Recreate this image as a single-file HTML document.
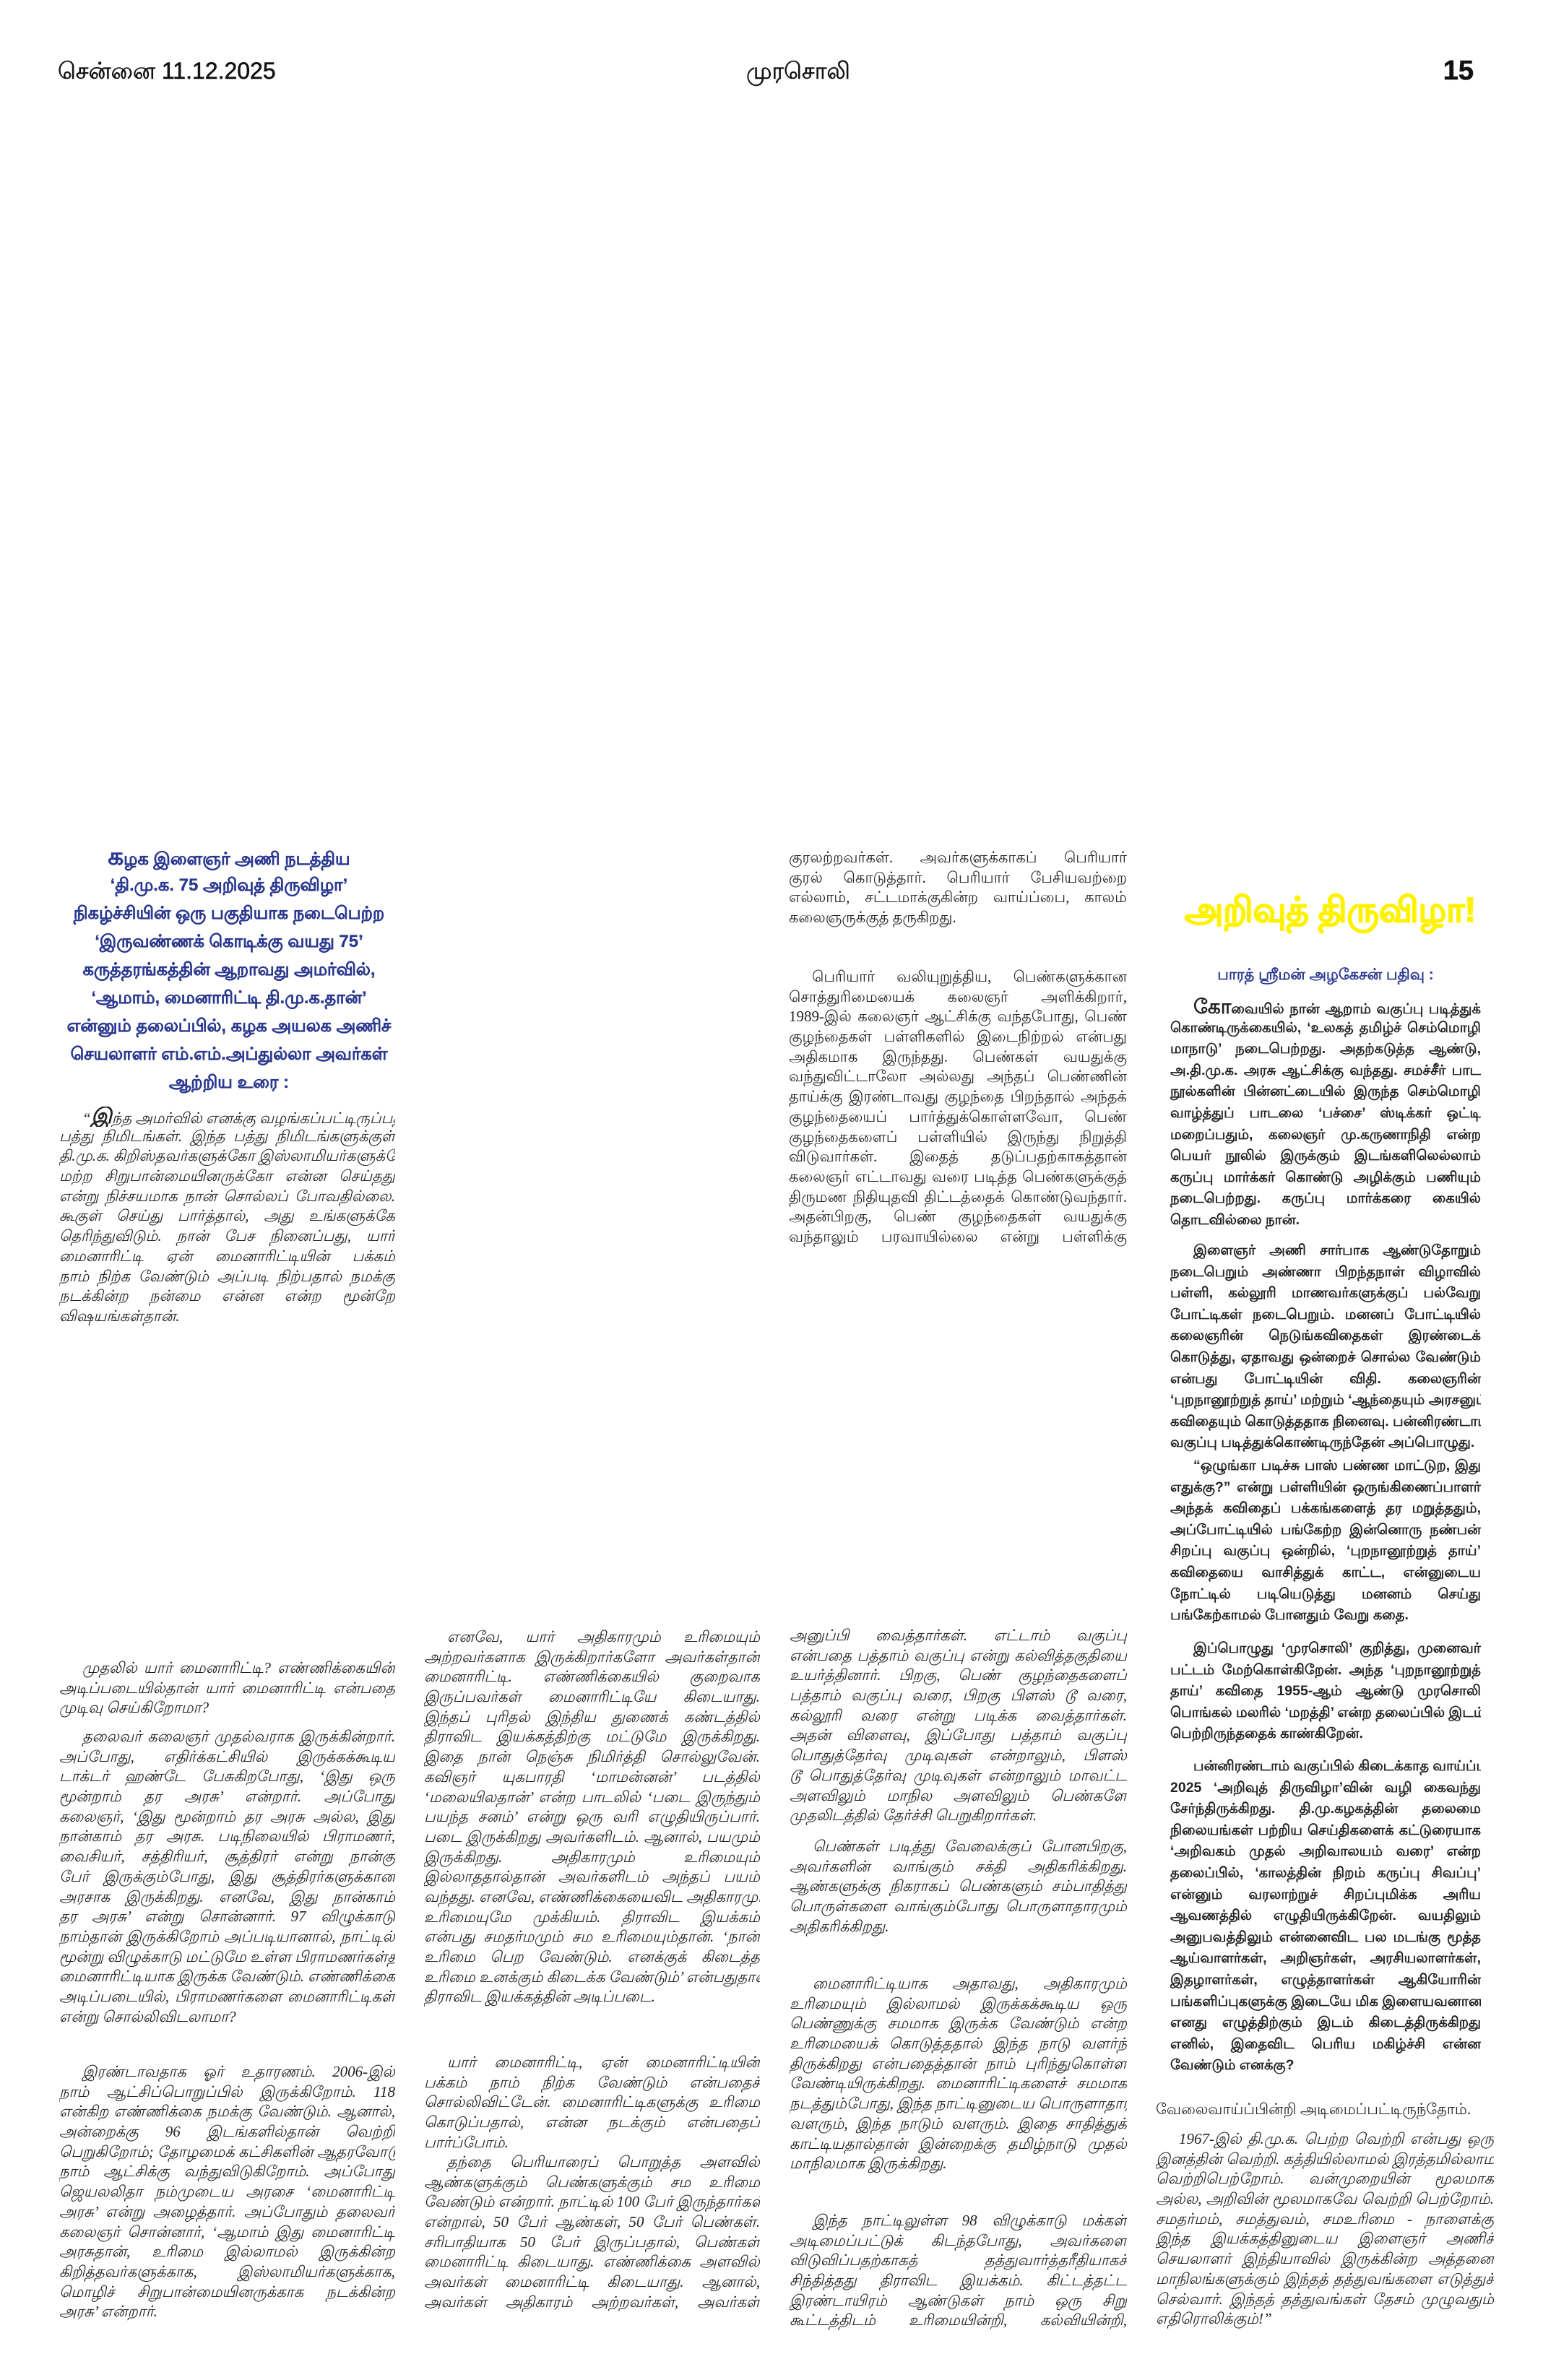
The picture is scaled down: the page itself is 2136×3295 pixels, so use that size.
<!DOCTYPE html>
<html><head><meta charset="utf-8">
<style>
html,body{margin:0;padding:0;background:#fff;}
body{width:2136px;height:3295px;position:relative;overflow:hidden;color:#1a1a1a;}
.h{position:absolute;top:76px;height:44px;line-height:44px;font-family:"Liberation Sans",sans-serif;font-size:32px;color:#111;white-space:nowrap;-webkit-text-stroke:0.6px #111;}
.c{position:absolute;font-family:"Liberation Serif",serif;font-size:21px;font-style:italic;color:#222;}
.c div{height:27.7px;line-height:27.7px;white-space:nowrap;overflow:hidden;text-align:justify;text-align-last:justify;}
.c div.e{text-align-last:left;}
.c div.i{text-indent:32px;}
.s{position:absolute;font-family:"Liberation Sans",sans-serif;font-size:19.5px;font-weight:bold;color:#222;}
.s div{height:29.6px;line-height:29.6px;white-space:nowrap;overflow:hidden;text-align:justify;text-align-last:justify;}
.s div.e{text-align-last:left;}
.s div.i{text-indent:32px;}
.hd{position:absolute;left:82px;width:470px;top:1167px;font-family:"Liberation Sans",sans-serif;font-size:24px;font-weight:bold;color:#2b3990;text-align:center;-webkit-text-stroke:0.3px #2b3990;}
.hd div{height:39px;line-height:39px;white-space:nowrap;}
</style></head><body>

<div class="h" style="left:80px;">சென்னை 11.12.2025</div>
<div class="h" style="left:1000px;width:210px;text-align:center;">முரசொலி</div>
<div class="h" style="left:1960px;width:80px;text-align:right;font-weight:bold;font-size:38px;">15</div>

<div class="hd">
<div><span style="font-size:34px">க</span>ழக இளைஞர் அணி நடத்திய</div>
<div>‘தி.மு.க. 75 அறிவுத் திருவிழா’</div>
<div>நிகழ்ச்சியின் ஒரு பகுதியாக நடைபெற்ற</div>
<div>‘இருவண்ணக் கொடிக்கு வயது 75’</div>
<div>கருத்தரங்கத்தின் ஆறாவது அமர்வில்,</div>
<div>‘ஆமாம், மைனாரிட்டி தி.மு.க.தான்’</div>
<div>என்னும் தலைப்பில், கழக அயலக அணிச்</div>
<div>செயலாளர் எம்.எம்.அப்துல்லா அவர்கள்</div>
<div>ஆற்றிய உரை :</div>
</div>

<div class="c" style="left:82px;width:465px;top:1532px;">
<div class="i">“<span style="font-size:30px;font-weight:bold">இ</span>ந்த அமர்வில் எனக்கு வழங்கப்பட்டிருப்பது</div>
<div>பத்து நிமிடங்கள். இந்த பத்து நிமிடங்களுக்குள்</div>
<div>தி.மு.க. கிறிஸ்தவர்களுக்கோ இஸ்லாமியர்களுக்கோ</div>
<div>மற்ற சிறுபான்மையினருக்கோ என்ன செய்தது</div>
<div>என்று நிச்சயமாக நான் சொல்லப் போவதில்லை.</div>
<div>கூகுள் செய்து பார்த்தால், அது உங்களுக்கே</div>
<div>தெரிந்துவிடும். நான் பேச நினைப்பது, யார்</div>
<div>மைனாரிட்டி ஏன் மைனாரிட்டியின் பக்கம்</div>
<div>நாம் நிற்க வேண்டும் அப்படி நிற்பதால் நமக்கு</div>
<div>நடக்கின்ற நன்மை என்ன என்ற மூன்றே</div>
<div class="e">விஷயங்கள்தான்.</div>
</div>

<div class="c" style="left:1092px;width:468px;top:1174px;font-style:normal;">
<div>குரலற்றவர்கள். அவர்களுக்காகப் பெரியார்</div>
<div>குரல் கொடுத்தார். பெரியார் பேசியவற்றை</div>
<div>எல்லாம், சட்டமாக்குகின்ற வாய்ப்பை, காலம்</div>
<div class="e">கலைஞருக்குத் தருகிறது.</div>
</div>
<div class="c" style="left:1092px;width:468px;top:1339px;font-style:normal;">
<div class="i">பெரியார் வலியுறுத்திய, பெண்களுக்கான</div>
<div>சொத்துரிமையைக் கலைஞர் அளிக்கிறார்,</div>
<div>1989-இல் கலைஞர் ஆட்சிக்கு வந்தபோது, பெண்</div>
<div>குழந்தைகள் பள்ளிகளில் இடைநிற்றல் என்பது</div>
<div>அதிகமாக இருந்தது. பெண்கள் வயதுக்கு</div>
<div>வந்துவிட்டாலோ அல்லது அந்தப் பெண்ணின்</div>
<div>தாய்க்கு இரண்டாவது குழந்தை பிறந்தால் அந்தக்</div>
<div>குழந்தையைப் பார்த்துக்கொள்ளவோ, பெண்</div>
<div>குழந்தைகளைப் பள்ளியில் இருந்து நிறுத்தி</div>
<div>விடுவார்கள். இதைத் தடுப்பதற்காகத்தான்</div>
<div>கலைஞர் எட்டாவது வரை படித்த பெண்களுக்குத்</div>
<div>திருமண நிதியுதவி திட்டத்தைக் கொண்டுவந்தார்.</div>
<div>அதன்பிறகு, பெண் குழந்தைகள் வயதுக்கு</div>
<div>வந்தாலும் பரவாயில்லை என்று பள்ளிக்கு</div>
</div>

<div style="position:absolute;left:1640px;width:400px;top:1228px;height:66px;line-height:66px;text-align:center;font-family:'Liberation Sans',sans-serif;font-size:48px;font-weight:bold;color:#fff200;-webkit-text-stroke:1.5px #fff200;white-space:nowrap;">அறிவுத் திருவிழா!</div>
<div style="position:absolute;left:1660px;width:350px;top:1334px;height:32px;line-height:32px;text-align:center;font-family:'Liberation Sans',sans-serif;font-size:21px;font-weight:bold;color:#2b3990;white-space:nowrap;">பாரத் ஸ்ரீமன் அழகேசன் பதிவு :</div>

<div class="s" style="left:1620px;width:430px;top:1379px;">
<div class="i"><span style="font-size:28px">கோ</span>வையில் நான் ஆறாம் வகுப்பு படித்துக்</div>
<div>கொண்டிருக்கையில், ‘உலகத் தமிழ்ச் செம்மொழி</div>
<div>மாநாடு’ நடைபெற்றது. அதற்கடுத்த ஆண்டு,</div>
<div>அ.தி.மு.க. அரசு ஆட்சிக்கு வந்தது. சமச்சீர் பாட</div>
<div>நூல்களின் பின்னட்டையில் இருந்த செம்மொழி</div>
<div>வாழ்த்துப் பாடலை ‘பச்சை’ ஸ்டிக்கர் ஒட்டி</div>
<div>மறைப்பதும், கலைஞர் மு.கருணாநிதி என்ற</div>
<div>பெயர் நூலில் இருக்கும் இடங்களிலெல்லாம்</div>
<div>கருப்பு மார்க்கர் கொண்டு அழிக்கும் பணியும்</div>
<div>நடைபெற்றது. கருப்பு மார்க்கரை கையில்</div>
<div class="e">தொடவில்லை நான்.</div>
</div>
<div class="s" style="left:1620px;width:430px;top:1717px;">
<div class="i">இளைஞர் அணி சார்பாக ஆண்டுதோறும்</div>
<div>நடைபெறும் அண்ணா பிறந்தநாள் விழாவில்</div>
<div>பள்ளி, கல்லூரி மாணவர்களுக்குப் பல்வேறு</div>
<div>போட்டிகள் நடைபெறும். மனனப் போட்டியில்</div>
<div>கலைஞரின் நெடுங்கவிதைகள் இரண்டைக்</div>
<div>கொடுத்து, ஏதாவது ஒன்றைச் சொல்ல வேண்டும்</div>
<div>என்பது போட்டியின் விதி. கலைஞரின்</div>
<div>‘புறநானூற்றுத் தாய்’ மற்றும் ‘ஆந்தையும் அரசனும்’</div>
<div>கவிதையும் கொடுத்ததாக நினைவு. பன்னிரண்டாம்</div>
<div class="e">வகுப்பு படித்துக்கொண்டிருந்தேன் அப்பொழுது.</div>
</div>
<div class="s" style="left:1620px;width:430px;top:2015px;">
<div class="i">“ஒழுங்கா படிச்சு பாஸ் பண்ண மாட்டுற, இது</div>
<div>எதுக்கு?” என்று பள்ளியின் ஒருங்கிணைப்பாளர்</div>
<div>அந்தக் கவிதைப் பக்கங்களைத் தர மறுத்ததும்,</div>
<div>அப்போட்டியில் பங்கேற்ற இன்னொரு நண்பன்</div>
<div>சிறப்பு வகுப்பு ஒன்றில், ‘புறநானூற்றுத் தாய்’</div>
<div>கவிதையை வாசித்துக் காட்ட, என்னுடைய</div>
<div>நோட்டில் படியெடுத்து மனனம் செய்து</div>
<div class="e">பங்கேற்காமல் போனதும் வேறு கதை.</div>
</div>
<div class="s" style="left:1620px;width:430px;top:2268px;">
<div class="i">இப்பொழுது ‘முரசொலி’ குறித்து, முனைவர்</div>
<div>பட்டம் மேற்கொள்கிறேன். அந்த ‘புறநானூற்றுத்</div>
<div>தாய்’ கவிதை 1955-ஆம் ஆண்டு முரசொலி</div>
<div>பொங்கல் மலரில் ‘மறத்தி’ என்ற தலைப்பில் இடம்</div>
<div class="e">பெற்றிருந்ததைக் காண்கிறேன்.</div>
</div>
<div class="s" style="left:1620px;width:430px;top:2431px;">
<div class="i">பன்னிரண்டாம் வகுப்பில் கிடைக்காத வாய்ப்பு</div>
<div>2025 ‘அறிவுத் திருவிழா’வின் வழி கைவந்து</div>
<div>சேர்ந்திருக்கிறது. தி.மு.கழகத்தின் தலைமை</div>
<div>நிலையங்கள் பற்றிய செய்திகளைக் கட்டுரையாக</div>
<div>‘அறிவகம் முதல் அறிவாலயம் வரை’ என்ற</div>
<div>தலைப்பில், ‘காலத்தின் நிறம் கருப்பு சிவப்பு’</div>
<div>என்னும் வரலாற்றுச் சிறப்புமிக்க அரிய</div>
<div>ஆவணத்தில் எழுதியிருக்கிறேன். வயதிலும்</div>
<div>அனுபவத்திலும் என்னைவிட பல மடங்கு மூத்த</div>
<div>ஆய்வாளர்கள், அறிஞர்கள், அரசியலாளர்கள்,</div>
<div>இதழாளர்கள், எழுத்தாளர்கள் ஆகியோரின்</div>
<div>பங்களிப்புகளுக்கு இடையே மிக இளையவனான</div>
<div>எனது எழுத்திற்கும் இடம் கிடைத்திருக்கிறது</div>
<div>எனில், இதைவிட பெரிய மகிழ்ச்சி என்ன</div>
<div class="e">வேண்டும் எனக்கு?</div>
</div>

<div class="c" style="left:1600px;width:468px;top:2907px;font-style:normal;">
<div class="e">வேலைவாய்ப்பின்றி அடிமைப்பட்டிருந்தோம்.</div>
</div>
<div class="c" style="left:1600px;width:468px;top:2948px;">
<div class="i">1967-இல் தி.மு.க. பெற்ற வெற்றி என்பது ஒரு</div>
<div>இனத்தின் வெற்றி. கத்தியில்லாமல் இரத்தமில்லாமல்</div>
<div>வெற்றிபெற்றோம். வன்முறையின் மூலமாக</div>
<div>அல்ல, அறிவின் மூலமாகவே வெற்றி பெற்றோம்.</div>
<div>சமதர்மம், சமத்துவம், சமஉரிமை - நாளைக்கு</div>
<div>இந்த இயக்கத்தினுடைய இளைஞர் அணிச்</div>
<div>செயலாளர் இந்தியாவில் இருக்கின்ற அத்தனை</div>
<div>மாநிலங்களுக்கும் இந்தத் தத்துவங்களை எடுத்துச்</div>
<div>செல்வார். இந்தத் தத்துவங்கள் தேசம் முழுவதும்</div>
<div class="e">எதிரொலிக்கும்!”</div>
</div>

<div class="c" style="left:82px;width:465px;top:2296px;">
<div class="i">முதலில் யார் மைனாரிட்டி? எண்ணிக்கையின்</div>
<div>அடிப்படையில்தான் யார் மைனாரிட்டி என்பதை</div>
<div class="e">முடிவு செய்கிறோமா?</div>
</div>
<div class="c" style="left:82px;width:465px;top:2391px;">
<div class="i">தலைவர் கலைஞர் முதல்வராக இருக்கின்றார்.</div>
<div>அப்போது, எதிர்க்கட்சியில் இருக்கக்கூடிய</div>
<div>டாக்டர் ஹண்டே பேசுகிறபோது, ‘இது ஒரு</div>
<div>மூன்றாம் தர அரசு’ என்றார். அப்போது</div>
<div>கலைஞர், ‘இது மூன்றாம் தர அரசு அல்ல, இது</div>
<div>நான்காம் தர அரசு. படிநிலையில் பிராமணர்,</div>
<div>வைசியர், சத்திரியர், சூத்திரர் என்று நான்கு</div>
<div>பேர் இருக்கும்போது, இது சூத்திரர்களுக்கான</div>
<div>அரசாக இருக்கிறது. எனவே, இது நான்காம்</div>
<div>தர அரசு’ என்று சொன்னார். 97 விழுக்காடு</div>
<div>நாம்தான் இருக்கிறோம் அப்படியானால், நாட்டில்</div>
<div>மூன்று விழுக்காடு மட்டுமே உள்ள பிராமணர்கள்தான்</div>
<div>மைனாரிட்டியாக இருக்க வேண்டும். எண்ணிக்கை</div>
<div>அடிப்படையில், பிராமணர்களை மைனாரிட்டிகள்</div>
<div class="e">என்று சொல்லிவிடலாமா?</div>
</div>
<div class="c" style="left:82px;width:465px;top:2855px;">
<div class="i">இரண்டாவதாக ஓர் உதாரணம். 2006-இல்</div>
<div>நாம் ஆட்சிப்பொறுப்பில் இருக்கிறோம். 118</div>
<div>என்கிற எண்ணிக்கை நமக்கு வேண்டும். ஆனால்,</div>
<div>அன்றைக்கு 96 இடங்களில்தான் வெற்றி</div>
<div>பெறுகிறோம்; தோழமைக் கட்சிகளின் ஆதரவோடு</div>
<div>நாம் ஆட்சிக்கு வந்துவிடுகிறோம். அப்போது</div>
<div>ஜெயலலிதா நம்முடைய அரசை ‘மைனாரிட்டி</div>
<div>அரசு’ என்று அழைத்தார். அப்போதும் தலைவர்</div>
<div>கலைஞர் சொன்னார், ‘ஆமாம் இது மைனாரிட்டி</div>
<div>அரசுதான், உரிமை இல்லாமல் இருக்கின்ற</div>
<div>கிறித்தவர்களுக்காக, இஸ்லாமியர்களுக்காக,</div>
<div>மொழிச் சிறுபான்மையினருக்காக நடக்கின்ற</div>
<div class="e">அரசு’ என்றார்.</div>
</div>

<div class="c" style="left:587px;width:465px;top:2253px;">
<div class="i">எனவே, யார் அதிகாரமும் உரிமையும்</div>
<div>அற்றவர்களாக இருக்கிறார்களோ அவர்கள்தான்</div>
<div>மைனாரிட்டி. எண்ணிக்கையில் குறைவாக</div>
<div>இருப்பவர்கள் மைனாரிட்டியே கிடையாது.</div>
<div>இந்தப் புரிதல் இந்திய துணைக் கண்டத்தில்</div>
<div>திராவிட இயக்கத்திற்கு மட்டுமே இருக்கிறது.</div>
<div>இதை நான் நெஞ்சு நிமிர்த்தி சொல்லுவேன்.</div>
<div>கவிஞர் யுகபாரதி ‘மாமன்னன்’ படத்தில்</div>
<div>‘மலையிலதான்’ என்ற பாடலில் ‘படை இருந்தும்</div>
<div>பயந்த சனம்’ என்று ஒரு வரி எழுதியிருப்பார்.</div>
<div>படை இருக்கிறது அவர்களிடம். ஆனால், பயமும்</div>
<div>இருக்கிறது. அதிகாரமும் உரிமையும்</div>
<div>இல்லாததால்தான் அவர்களிடம் அந்தப் பயம்</div>
<div>வந்தது. எனவே, எண்ணிக்கையைவிட அதிகாரமும்</div>
<div>உரிமையுமே முக்கியம். திராவிட இயக்கம்</div>
<div>என்பது சமதர்மமும் சம உரிமையும்தான். ‘நான்</div>
<div>உரிமை பெற வேண்டும். எனக்குக் கிடைத்த</div>
<div>உரிமை உனக்கும் கிடைக்க வேண்டும்’ என்பதுதான்</div>
<div class="e">திராவிட இயக்கத்தின் அடிப்படை.</div>
</div>
<div class="c" style="left:587px;width:465px;top:2842px;">
<div class="i">யார் மைனாரிட்டி, ஏன் மைனாரிட்டியின்</div>
<div>பக்கம் நாம் நிற்க வேண்டும் என்பதைச்</div>
<div>சொல்லிவிட்டேன். மைனாரிட்டிகளுக்கு உரிமை</div>
<div>கொடுப்பதால், என்ன நடக்கும் என்பதைப்</div>
<div class="e">பார்ப்போம்.</div>
</div>
<div class="c" style="left:587px;width:465px;top:2980px;">
<div class="i">தந்தை பெரியாரைப் பொறுத்த அளவில்</div>
<div>ஆண்களுக்கும் பெண்களுக்கும் சம உரிமை</div>
<div>வேண்டும் என்றார். நாட்டில் 100 பேர் இருந்தார்கள்</div>
<div>என்றால், 50 பேர் ஆண்கள், 50 பேர் பெண்கள்.</div>
<div>சரிபாதியாக 50 பேர் இருப்பதால், பெண்கள்</div>
<div>மைனாரிட்டி கிடையாது. எண்ணிக்கை அளவில்</div>
<div>அவர்கள் மைனாரிட்டி கிடையாது. ஆனால்,</div>
<div>அவர்கள் அதிகாரம் அற்றவர்கள், அவர்கள்</div>
</div>

<div class="c" style="left:1093px;width:467px;top:2251px;">
<div>அனுப்பி வைத்தார்கள். எட்டாம் வகுப்பு</div>
<div>என்பதை பத்தாம் வகுப்பு என்று கல்வித்தகுதியை</div>
<div>உயர்த்தினார். பிறகு, பெண் குழந்தைகளைப்</div>
<div>பத்தாம் வகுப்பு வரை, பிறகு பிளஸ் டூ வரை,</div>
<div>கல்லூரி வரை என்று படிக்க வைத்தார்கள்.</div>
<div>அதன் விளைவு, இப்போது பத்தாம் வகுப்பு</div>
<div>பொதுத்தேர்வு முடிவுகள் என்றாலும், பிளஸ்</div>
<div>டூ பொதுத்தேர்வு முடிவுகள் என்றாலும் மாவட்ட</div>
<div>அளவிலும் மாநில அளவிலும் பெண்களே</div>
<div class="e">முதலிடத்தில் தேர்ச்சி பெறுகிறார்கள்.</div>
</div>
<div class="c" style="left:1093px;width:467px;top:2543px;">
<div class="i">பெண்கள் படித்து வேலைக்குப் போனபிறகு,</div>
<div>அவர்களின் வாங்கும் சக்தி அதிகரிக்கிறது.</div>
<div>ஆண்களுக்கு நிகராகப் பெண்களும் சம்பாதித்து</div>
<div>பொருள்களை வாங்கும்போது பொருளாதாரமும்</div>
<div class="e">அதிகரிக்கிறது.</div>
</div>
<div class="c" style="left:1093px;width:467px;top:2733px;">
<div class="i">மைனாரிட்டியாக அதாவது, அதிகாரமும்</div>
<div>உரிமையும் இல்லாமல் இருக்கக்கூடிய ஒரு</div>
<div>பெண்ணுக்கு சமமாக இருக்க வேண்டும் என்ற</div>
<div>உரிமையைக் கொடுத்ததால் இந்த நாடு வளர்ந்</div>
<div>திருக்கிறது என்பதைத்தான் நாம் புரிந்துகொள்ள</div>
<div>வேண்டியிருக்கிறது. மைனாரிட்டிகளைச் சமமாக</div>
<div>நடத்தும்போது, இந்த நாட்டினுடைய பொருளாதாரம்</div>
<div>வளரும், இந்த நாடும் வளரும். இதை சாதித்துக்</div>
<div>காட்டியதால்தான் இன்றைக்கு தமிழ்நாடு முதல்</div>
<div class="e">மாநிலமாக இருக்கிறது.</div>
</div>
<div class="c" style="left:1093px;width:467px;top:3061px;">
<div class="i">இந்த நாட்டிலுள்ள 98 விழுக்காடு மக்கள்</div>
<div>அடிமைப்பட்டுக் கிடந்தபோது, அவர்களை</div>
<div>விடுவிப்பதற்காகத் தத்துவார்த்தரீதியாகச்</div>
<div>சிந்தித்தது திராவிட இயக்கம். கிட்டத்தட்ட</div>
<div>இரண்டாயிரம் ஆண்டுகள் நாம் ஒரு சிறு</div>
<div>கூட்டத்திடம் உரிமையின்றி, கல்வியின்றி,</div>
</div>

</body></html>
